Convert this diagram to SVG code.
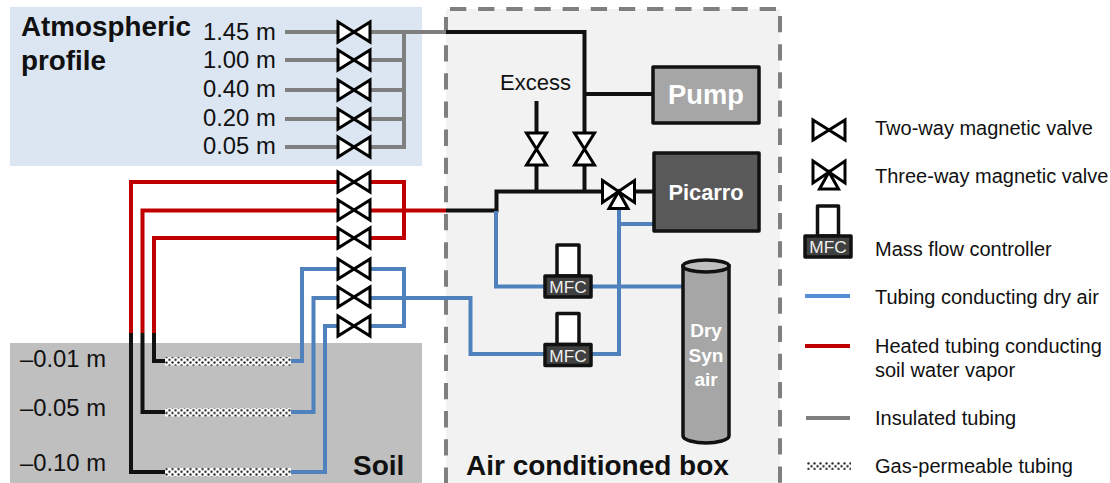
<svg xmlns="http://www.w3.org/2000/svg" width="1110" height="483" viewBox="0 0 1110 483">
<style>
text{font-family:"Liberation Sans",Arial,sans-serif;fill:#111}
.b{font-weight:bold}
.w{fill:#fff}
.lab{font-size:23.8px}
.leg{font-size:20px}
.mfct{font-size:17.3px;fill:#eee;text-anchor:middle}
.t{fill:none;stroke-width:4;stroke-linejoin:miter}
.gr{stroke:#7f7f7f}.rd{stroke:#c00000}.bl{stroke:#4f81bd}.bk{stroke:#111}
.v{fill:#fff;stroke:#000;stroke-width:3;stroke-linejoin:miter}
.box{stroke:#111;stroke-width:3.5;stroke-linejoin:round}
.gas{fill:url(#dots)}
.dash{fill:none;stroke:#7f7f7f;stroke-width:4;stroke-dasharray:16.3 11.85}
</style>
<defs>
<pattern id="dots" width="6" height="5.6" patternUnits="userSpaceOnUse">
<rect width="6" height="5.6" fill="#fff"/>
<circle cx="1.5" cy="1.4" r="1.2" fill="#222"/>
<circle cx="4.5" cy="4.2" r="1.2" fill="#222"/>
</pattern>
<g id="valve"><path class="v" d="M-16-10 L16 10 V-10 L-16 10Z"/></g>
<g id="vvalve"><path class="v" d="M-10-16 H10 L-10 16 H10Z"/></g>
<g id="valve3"><path class="v" d="M-16-11 L0 0 L16-11 V11 L0 0 L-16 11Z"/><path class="v" d="M0 0 L9.500 17 H-9.500Z"/></g>
<g id="mfc">
<rect class="box" x="-11" y="-31" width="22" height="31" fill="#fff"/>
<rect class="box" x="-23" y="0" width="46" height="21" fill="#404040"/>
<text class="mfct" x="0" y="17">MFC</text>
</g>
</defs>

<g id="atmosphere"><rect x="10" y="7" width="412" height="159" fill="#dce6f2"/></g>
<g id="soil"><rect x="10" y="343" width="412" height="140" fill="#bfbfbf"/></g>
<g id="air-box">
<rect x="446" y="9" width="334" height="474" fill="#f2f2f2"/>
<path class="dash" d="M450 9H780"/>
<path class="dash" d="M446 17V483"/>
<path class="dash" d="M780 16V483"/>
</g>

<g id="connectors">
<path class="t gr" d="M285 32H338M285 60H338M285 90H338M285 119H338M285 147H338"/>
<path class="t gr" d="M370 32H446M370 60H404M370 90H404M370 119H404M370 147H404V32"/>
<path class="t bk" d="M446 32H584.500V133M584.500 94H653M536.500 101V133M536.500 165V191.500M584.500 165V191.500M446 210.500H496.500V191.500H602M634 191.500H653"/>
<path class="t rd" d="M131 333V182H338M142.500 333V210.500H338M154 333V238H338"/>
<path class="t rd" d="M370 182H404V238H370M370 210.500H446"/>
<path class="t bk" d="M131 333V472H166M142.500 333V412H166M154 333V361H166"/>
<path class="t bl" d="M291 361H302V269H338M291 412H313.500V298H338M291 472H325V326H338"/>
<path class="t bl" d="M370 269H404V326H370M370 298H470.500V354H546M590 354H619V209M619 224H653M496 211V286.500H546M590 286.500H683"/>
</g>

<g id="tube1"><rect class="gas" x="165" y="357" width="126" height="8.500"/></g>
<g id="tube2"><rect class="gas" x="165" y="408" width="126" height="8.500"/></g>
<g id="tube3"><rect class="gas" x="165" y="468" width="126" height="8.500"/></g>

<g id="valve-a1"><use href="#valve" x="354" y="32"/></g>
<g id="valve-a2"><use href="#valve" x="354" y="60"/></g>
<g id="valve-a3"><use href="#valve" x="354" y="90"/></g>
<g id="valve-a4"><use href="#valve" x="354" y="119"/></g>
<g id="valve-a5"><use href="#valve" x="354" y="147"/></g>
<g id="valve-r1"><use href="#valve" x="354" y="182"/></g>
<g id="valve-r2"><use href="#valve" x="354" y="210"/></g>
<g id="valve-r3"><use href="#valve" x="354" y="238"/></g>
<g id="valve-b1"><use href="#valve" x="354" y="269"/></g>
<g id="valve-b2"><use href="#valve" x="354" y="297"/></g>
<g id="valve-b3"><use href="#valve" x="354" y="326"/></g>
<g id="valve-excess"><use href="#vvalve" x="536.500" y="149"/></g>
<g id="valve-pump"><use href="#vvalve" x="584.500" y="149"/></g>
<g id="valve-three"><use href="#valve3" x="618.500" y="191.500"/></g>

<g id="pump"><rect class="box" x="653" y="67" width="106" height="56" fill="#a6a6a6"/><text class="b w" x="706" y="104" font-size="27.300" text-anchor="middle">Pump</text></g>
<g id="picarro"><rect class="box" x="654" y="153" width="105" height="78" fill="#595959"/><text class="b w" x="706" y="200" font-size="21.800" text-anchor="middle">Picarro</text></g>
<g id="mfc1"><use href="#mfc" x="568" y="276"/></g>
<g id="mfc2"><use href="#mfc" x="568" y="344.500"/></g>
<g id="cylinder">
<path d="M683 266V436C683 440 695 443 706 443S729 440 729 436V266Z" fill="#a6a6a6" stroke="#111" stroke-width="3.500"/>
<ellipse cx="706" cy="266" rx="23" ry="6" fill="#bfbfbf" stroke="#111" stroke-width="3.500"/>
<text class="b w" font-size="19" text-anchor="middle" x="706" y="337">Dry</text>
<text class="b w" font-size="19" text-anchor="middle" x="706" y="362">Syn</text>
<text class="b w" font-size="19" text-anchor="middle" x="706" y="386">air</text>
</g>

<g id="labels">
<text class="b" x="21" y="36" font-size="27.800">Atmospheric</text>
<text class="b" x="21" y="70" font-size="27.800">profile</text>
<text class="lab" x="203" y="40">1.45 m</text>
<text class="lab" x="203" y="68">1.00 m</text>
<text class="lab" x="203" y="97">0.40 m</text>
<text class="lab" x="203" y="126">0.20 m</text>
<text class="lab" x="203" y="154">0.05 m</text>
<text class="lab" x="20" y="367">–0.01 m</text>
<text class="lab" x="20" y="416">–0.05 m</text>
<text class="lab" x="20" y="471">–0.10 m</text>
<text class="b" x="353" y="475" font-size="28">Soil</text>
<text class="b" x="466" y="475" font-size="28">Air conditioned box</text>
<text x="500" y="90" font-size="22">Excess</text>
</g>

<g id="legend">
<use href="#valve" x="829" y="130"/>
<use href="#valve3" x="829" y="172"/>
<rect class="box" x="817.500" y="206" width="21" height="30" fill="#fff"/>
<rect class="box" x="805" y="236" width="46" height="21" fill="#404040"/>
<text class="mfct" x="828" y="253">MFC</text>
<path class="t" d="M805 296H850" style="stroke:#558ed5"/>
<path class="t rd" d="M805 346H850"/>
<path class="t gr" d="M806 418H850"/>
<rect class="gas" x="807" y="462" width="44" height="8"/>
<text class="leg" x="875" y="135">Two-way magnetic valve</text>
<text class="leg" x="875" y="183">Three-way magnetic valve</text>
<text class="leg" x="875" y="256">Mass flow controller</text>
<text class="leg" x="875" y="304">Tubing conducting dry air</text>
<text class="leg" x="875" y="353">Heated tubing conducting</text>
<text class="leg" x="875" y="377">soil water vapor</text>
<text class="leg" x="875" y="425">Insulated tubing</text>
<text class="leg" x="875" y="473">Gas-permeable tubing</text>
</g>
</svg>
